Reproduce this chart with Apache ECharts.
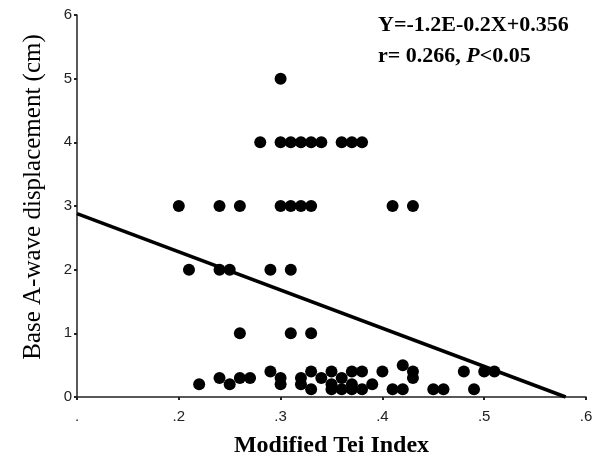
<!DOCTYPE html>
<html>
<head>
<meta charset="utf-8">
<script src="https://cdn.jsdelivr.net/npm/echarts@6/dist/echarts.min.js"></script>
<style>
  html, body { margin: 0; padding: 0; background: #fff; }
  #chart { width: 605px; height: 461px; }
</style>
</head>
<body>
<div id="chart"></div>
<script>
// Modified Tei index (x) vs base A-wave displacement (y)
const tei = [
  0.30,
  0.28, 0.30, 0.31, 0.32, 0.33, 0.34, 0.36, 0.37, 0.38,
  0.20, 0.24, 0.26, 0.30, 0.31, 0.32, 0.33, 0.41, 0.43,
  0.21, 0.24, 0.25, 0.29, 0.31,
  0.26, 0.31, 0.33,
  0.42,
  0.29, 0.33, 0.35, 0.37, 0.38, 0.40, 0.43, 0.48, 0.50, 0.51,
  0.24, 0.26, 0.27, 0.30, 0.32, 0.34, 0.36, 0.43,
  0.22, 0.25, 0.30, 0.32, 0.35, 0.37, 0.39,
  0.33, 0.35, 0.36, 0.37, 0.38, 0.41, 0.42, 0.45, 0.46, 0.49
];
const disp = [
  5,
  4, 4, 4, 4, 4, 4, 4, 4, 4,
  3, 3, 3, 3, 3, 3, 3, 3, 3,
  2, 2, 2, 2, 2,
  1, 1, 1,
  0.5,
  0.4, 0.4, 0.4, 0.4, 0.4, 0.4, 0.4, 0.4, 0.4, 0.4,
  0.3, 0.3, 0.3, 0.3, 0.3, 0.3, 0.3, 0.3,
  0.2, 0.2, 0.2, 0.2, 0.2, 0.2, 0.2,
  0.12, 0.12, 0.12, 0.12, 0.12, 0.12, 0.12, 0.12, 0.12, 0.12
];

// fitted line end points
const fitX = [0.1, 0.58];
const fitY = [2.88, 0];

// tick labels as printed
const xTickLabels = { '0.1': '.', '0.2': '.2', '0.3': '.3', '0.4': '.4', '0.5': '.5', '0.6': '.6' };
const yTickLabels = ['0', '1', '2', '3', '4', '5', '6'];

const points = tei.map((x, i) => [x, disp[i]]);
const fitLine = fitX.map((x, i) => [x, fitY[i]]);

const axisColor = '#222';
const tickFont = { color: '#222', fontSize: 15, fontFamily: 'Liberation Sans' };

const chart = echarts.init(document.getElementById('chart'), null, { renderer: 'canvas' });

chart.setOption({
  animation: false,
  grid: { left: 77, right: 19, top: 15, bottom: 64, containLabel: false, outerBoundsMode: 'none' },
  xAxis: {
    type: 'value',
    min: 0.1,
    max: 0.6,
    interval: 0.1,
    name: 'Modified Tei Index',
    nameLocation: 'middle',
    nameGap: 37,
    nameTextStyle: { fontFamily: 'Liberation Serif', fontWeight: 'bold', fontSize: 24, color: '#000' },
    axisLine: { lineStyle: { color: axisColor, width: 1.5 } },
    axisTick: { show: true, length: 3, lineStyle: { color: axisColor, width: 2 } },
    axisLabel: {
      ...tickFont,
      margin: 12,
      formatter: v => xTickLabels[v.toFixed(1)] || ''
    },
    splitLine: { show: false }
  },
  yAxis: {
    type: 'value',
    min: 0,
    max: 6,
    interval: 1,
    axisLine: { show: true, lineStyle: { color: axisColor, width: 1.5 } },
    axisTick: { show: true, length: 3, lineStyle: { color: axisColor, width: 2 } },
    axisLabel: {
      ...tickFont,
      margin: 5,
      formatter: v => yTickLabels[Math.round(v)]
    },
    splitLine: { show: false }
  },
  series: [
    {
      name: 'fit',
      type: 'line',
      data: fitLine,
      symbol: 'none',
      lineStyle: { color: '#000', width: 3.5 },
      z: 3
    },
    {
      name: 'patients',
      type: 'scatter',
      data: points,
      symbol: 'circle',
      symbolSize: 12,
      itemStyle: { color: '#000', opacity: 1 },
      z: 4
    }
  ],
  graphic: [
    {
      type: 'text',
      x: 33,
      y: 197,
      rotation: Math.PI / 2,
      style: {
        text: 'Base A-wave displacement (cm)',
        font: '25px "Liberation Serif"',
        fill: '#000',
        align: 'center',
        verticalAlign: 'middle'
      }
    },
    {
      type: 'text',
      left: 378,
      top: 10,
      style: {
        text: 'Y=-1.2E-0.2X+0.356\nr= 0.266, {i|P}<0.05',
        font: 'bold 22px "Liberation Serif"',
        fill: '#000',
        lineHeight: 31,
        rich: {
          i: { fontStyle: 'italic', fontWeight: 'bold', fontSize: 22, fontFamily: 'Liberation Serif' }
        }
      }
    }
  ]
});
</script>
</body>
</html>
